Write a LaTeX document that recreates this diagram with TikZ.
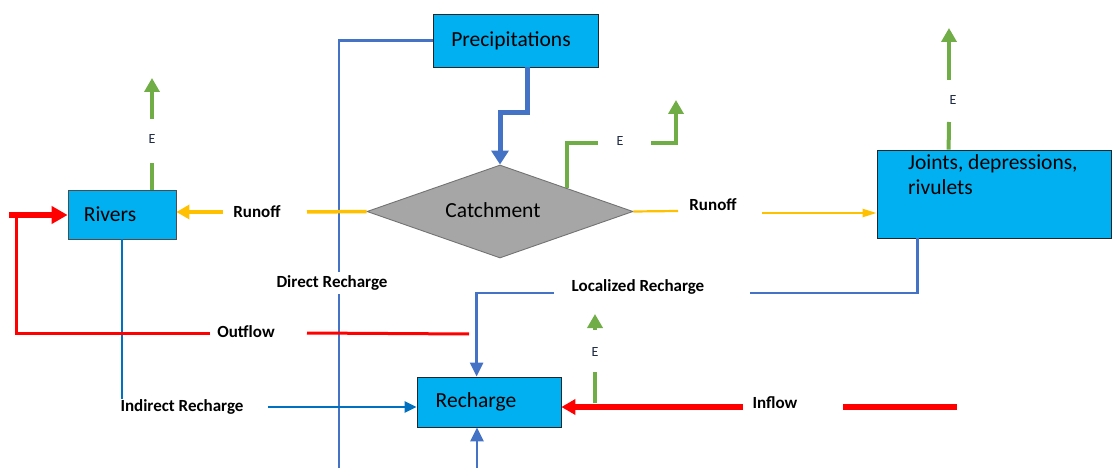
\documentclass[tikz,border=0pt]{standalone}
\usepackage{fontspec}
\setmainfont{Carlito}
\usetikzlibrary{arrows.meta,shapes.geometric,calc}
\definecolor{cyanbox}{HTML}{00B0F0}
\definecolor{blueline}{HTML}{4472C4}
\definecolor{indblue}{HTML}{0070C0}
\definecolor{greenline}{HTML}{70AD47}
\definecolor{yelline}{HTML}{FFC000}
\definecolor{redline}{HTML}{FF0000}
\definecolor{catchgray}{HTML}{A6A6A6}
\definecolor{navytext}{HTML}{1F2A44}
\tikzset{
  box/.style={draw=black!85, line width=0.8pt, fill=cyanbox, inner sep=0pt, font=\fontsize{21.5}{25}\selectfont},
  lbl/.style={font=\fontsize{17}{20}\selectfont\bfseries, inner sep=0pt},
  elbl/.style={font=\fontsize{14}{16}\selectfont, text=navytext, inner sep=0pt},
  bl/.style={draw=blueline, line width=2.6pt},
  ibl/.style={draw=indblue, line width=2.6pt},
  grn/.style={draw=greenline, line width=4pt},
  yel/.style={draw=yelline},
  rd/.style={draw=redline},
  gtip/.style={-{Triangle[width=15pt,length=14pt]}},
  btip/.style={-{Triangle[width=13pt,length=14pt]}},
  rtip/.style={-{Triangle[width=15pt,length=14pt]}},
}
\begin{document}
\begin{tikzpicture}[x=1pt,y=-1pt]
\useasboundingbox (0,0) rectangle (1112,468);

% boxes
\node[box, minimum width=165pt, minimum height=53pt] (prec) at (515.5,40.5) {\hspace*{-9pt}Precipitations};
\node[diamond, draw=black!55, fill=catchgray, line width=0.9pt, aspect=2.86,
      minimum width=266pt, minimum height=93pt, inner sep=0pt,
      font=\fontsize{21.5}{25}\selectfont] (catch) at (500,211.5) {\hspace*{-14pt}\raisebox{3pt}{Catchment}};
\node[box, draw=black!70, minimum width=108pt, minimum height=49pt] (rivers) at (122,214.5) {\hspace*{-24pt}Rivers};
\node[box, minimum width=234pt, minimum height=88pt] (joints) at (994,194) {};
\node[anchor=north west, inner sep=0pt, align=left, font=\fontsize{21.5}{25}\selectfont] (jtext) at (908,154) {Joints, depressions,\\rivulets};
\node[box, minimum width=144pt, minimum height=50pt] (rech) at (489,402) {\hspace*{-26pt}Recharge};

% labels
\node[lbl] (runL) at (257,212) {Runoff};
\node[lbl] (runR) at (713,205) {Runoff};
\node[lbl] (direct) at (332,283) {Direct Recharge};
\node[lbl] (local) at (638,287) {Localized Recharge};
\node[lbl] (outflow) at (246,332) {Outflow};
\node[lbl] (indirect) at (182,407) {Indirect Recharge};
\node[lbl] (inflow) at (775,403) {Inflow};
\node[elbl] (e1) at (152,139) {E};
\node[elbl] (e2) at (620,141) {E};
\node[elbl] (e3) at (953,100) {E};
\node[elbl] (e4) at (595,352) {E};

% precipitation -> catchment
\coordinate (p0) at ($(prec.south)+(11.5,0)$);
\draw[bl, line width=5pt, -{Triangle[width=17pt,length=14pt]}] (p0) -- ++(0,45) -| (catch.north);

% direct recharge
\coordinate (d1) at (339,272);
\coordinate (d2) at (339,294);
\coordinate (d3) at (339,468);
\draw[bl] (prec.west) -| (d1);
\draw[bl] (d2) -- (d3);

% runoff left
\coordinate (rl1) at (307,212);
\coordinate (rl2) at (223,212);
\draw[yel, line width=3.5pt] (catch.west) -- (rl1);
\draw[yel, line width=3.5pt, -{Triangle[width=14pt,length=13pt]}] (rl2) -- (rl2 -| rivers.east);

% runoff right
\coordinate (rr1) at (678,211);
\coordinate (rr2) at (762,213);
\draw[yel, line width=2.2pt] (catch.east) -- (rr1);
\draw[yel, line width=2.2pt, -{Triangle[width=8pt,length=14pt]}] (rr2) -- (rr2 -| joints.west);

% evaporation from catchment
\coordinate (g0) at ($(catch.north)!0.5!(catch.east)$);
\coordinate (g1) at (598,143);
\coordinate (g2) at (651,143);
\coordinate (g3) at (676,100);
\draw[grn] (g0) |- (g1);
\draw[grn, gtip] (g2) -| (g3);

% evaporation from rivers
\coordinate (gr0) at ($(rivers.north)+(30,0)$);
\coordinate (gr1) at (152,163);
\coordinate (gr2) at (152,119);
\coordinate (gr3) at (152,78);
\draw[grn] (gr0) -- (gr1);
\draw[grn, gtip] (gr2) -- (gr3);

% evaporation from joints
\coordinate (gj0) at ($(joints.north west)+(72,0)$);
\coordinate (gj1) at (949,122);
\coordinate (gj2) at (949,80);
\coordinate (gj3) at (949,28);
\draw[grn] (gj0) -- (gj1);
\draw[grn, gtip] (gj2) -- (gj3);

% localized recharge
\coordinate (l0) at ($(joints.south west)+(41,0)$);
\coordinate (l1) at (750,293);
\coordinate (l2) at (554,293);
\coordinate (l3) at ($(rech.north west)+(60,0)$);
\draw[bl] (l0) |- (l1);
\draw[bl, btip] (l2) -| (l3);

% from below into recharge
\coordinate (b0) at (477,468);
\draw[bl, btip] (b0) -- (b0 |- rech.south);

% indirect recharge
\coordinate (ib1) at (122,399);
\coordinate (ib2) at (268,407);
\draw[ibl] (rivers.south) -- (ib1);
\draw[ibl, -{Triangle[width=11pt,length=12pt]}] (ib2) -- (ib2 -| rech.west);

% outflow
\coordinate (o1) at (469,334);
\coordinate (o2) at (307,333);
\coordinate (o3) at (210,333);
\coordinate (o4) at (16,333);
\coordinate (o5) at (16,216);
\coordinate (o6) at (9,215);
\draw[rd, line width=3pt] (o1) -- (o2);
\draw[rd, line width=3pt] (o3) -- (o4) -- (o5);
\draw[rd, line width=5.5pt, -{Triangle[width=17pt,length=16pt]}] (o6) -- (o6 -| rivers.west);

% inflow
\coordinate (i1) at (957,407);
\coordinate (i2) at (843,407);
\coordinate (i3) at (743,407);
\draw[rd, line width=5.5pt] (i1) -- (i2);
\draw[rd, line width=5.5pt, rtip] (i3) -- (i3 -| rech.east);

% evaporation at recharge
\coordinate (ge0) at (595,403);
\coordinate (ge1) at (595,372);
\coordinate (ge2) at (595,330);
\coordinate (ge3) at (595,314);
\draw[grn] (ge0) -- (ge1);
\draw[grn, gtip] (ge2) -- (ge3);
\end{tikzpicture}
\end{document}
